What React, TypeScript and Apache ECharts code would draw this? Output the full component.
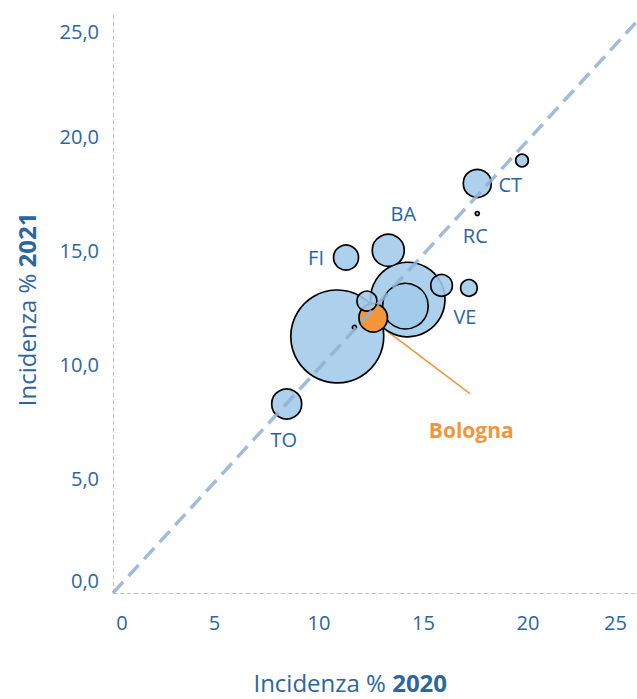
import React, { useEffect, useRef } from "react";
import * as echarts from "echarts";

// Data
const cities = ["RM", "MI", "NA", "BA", "TO", "CT", "FI", "PA", "GE", "VE", "ME", "VR", "RC", "Bologna"];
const incid2020 = [10.73, 14.1, 13.99, 13.17, 8.31, 17.43, 11.15, 15.72, 12.15, 17.03, 19.57, 11.55, 17.43, 12.45];
const incid2021 = [11.25, 12.87, 12.58, 15.03, 8.29, 17.96, 14.71, 13.49, 12.8, 13.38, 18.97, 11.65, 16.64, 12.07];
const bubbleSize = [2160, 1390, 520, 256, 225, 196, 156, 117, 100, 69, 40, 4, 4, 204];
const shownLabels = ["FI", "BA", "CT", "RC", "VE", "TO", "Bologna"];
const xTicks = [0, 5, 10, 15, 20, 25];
const yTicks = [0, 5, 10, 15, 20, 25];
const bisettrice = [[0, 0], [25, 25]];
const bolognaLeader = [[12.99, 11.57], [17.08, 8.74]];

const FONT = "'Open Sans', 'Noto Sans', sans-serif";
const BLUE_TEXT = "#2b66a2";
const ORANGE = "#f3953a";

const labelOffsets: Record<string, number[]> = {
  FI: [-30, 0],
  BA: [15, -37],
  CT: [33, 1],
  RC: [-2, 22],
  VE: [-4, 29],
  TO: [-3, 36],
  Bologna: [98, 112],
};

export default function App() {
  const ref = useRef<HTMLDivElement>(null);
  useEffect(() => {
    document.body.style.margin = "0";
    document.documentElement.style.overflow = "hidden";
    if (!ref.current) return;
    const chart = echarts.init(ref.current, undefined, { renderer: "svg" });
    const pts = cities.map((name, i) => ({
      name,
      value: [incid2020[i], incid2021[i], bubbleSize[i]],
    }));
    pts.sort((a, b) => b.value[2] - a.value[2]);
    const data = pts.map((p) => {
      const isBo = p.name === "Bologna";
      const show = shownLabels.includes(p.name);
      return {
        name: p.name,
        value: p.value,
        symbolSize: 2 * Math.sqrt(p.value[2]),
        itemStyle: isBo
          ? { color: ORANGE, borderColor: "#000", borderWidth: 1.7, opacity: 1 }
          : { color: "rgba(162,202,233,0.88)", borderColor: "#000", borderWidth: 1.7, opacity: 1 },
        label: {
          show,
          position: ["50%", "50%"],
          align: "center",
          verticalAlign: "middle",
          offset: labelOffsets[p.name] || [0, 0],
          formatter: "{b}",
          color: isBo ? ORANGE : BLUE_TEXT,
          fontSize: isBo ? 21 : 20,
          fontWeight: isBo ? "bold" : "normal",
          fontFamily: FONT,
          textBorderWidth: 0,
          opacity: 1,
        },
      };
    });

    chart.setOption({
      animation: false,
      grid: { left: 113, right: 1.5, top: 13.8, bottom: 101 },
      xAxis: {
        type: "value",
        min: xTicks[0],
        max: xTicks[xTicks.length - 1],
        interval: 5,
        splitLine: { show: false },
        axisTick: { show: false },
        axisLine: { show: true, lineStyle: { color: "#c8c8c8", type: [4, 3], width: 1 } },
        axisLabel: {
          margin: 19,
          color: BLUE_TEXT,
          fontSize: 20,
          fontFamily: FONT,
          formatter: (v: number) => {
            if (v === 0) return "{l|0}";
            if (v === 25) return "{r|25}";
            return "{n|" + v + "}";
          },
          rich: {
            l: { padding: [0, 0, 0, 18], color: BLUE_TEXT, fontSize: 20, fontFamily: FONT },
            r: { padding: [0, 40, 0, 0], color: BLUE_TEXT, fontSize: 20, fontFamily: FONT },
            n: { padding: [0, 6, 0, 0], color: BLUE_TEXT, fontSize: 20, fontFamily: FONT },
          },
        },
        name: "Incidenza % {b|2020}",
        nameLocation: "middle",
        nameGap: 78,
        nameTextStyle: {
          color: BLUE_TEXT,
          fontSize: 24,
          lineHeight: 22,
          fontFamily: FONT,
          padding: [0, 48, 0, 0],
          rich: { b: { fontWeight: "bold", fontSize: 24, lineHeight: 22, color: BLUE_TEXT, fontFamily: FONT } },
        },
      },
      yAxis: {
        type: "value",
        min: yTicks[0],
        max: 25.4,
        interval: 5,
        splitLine: { show: false },
        axisTick: { show: false },
        axisLine: { show: true, lineStyle: { color: "#c8c8c8", type: [4, 3], width: 1 } },
        axisLabel: {
          margin: 14,
          color: BLUE_TEXT,
          fontSize: 20,
          fontFamily: FONT,
          formatter: (v: number) => {
            if (!yTicks.includes(v)) return "";
            const s = v.toFixed(1).replace(".", ",");
            if (v === 0) return "{lo|" + s + "}";
            if (v === 25) return "{hi|" + s + "}";
            return "{n|" + s + "}";
          },
          rich: {
            lo: { padding: [0, 0, 26, 0], color: BLUE_TEXT, fontSize: 20, fontFamily: FONT },
            hi: { padding: [18, 0, 0, 0], color: BLUE_TEXT, fontSize: 20, fontFamily: FONT },
            n: { color: BLUE_TEXT, fontSize: 20, fontFamily: FONT },
          },
        },
        name: "Incidenza % {b|2021}",
        nameLocation: "middle",
        nameGap: 76,
        nameTextStyle: {
          color: BLUE_TEXT,
          fontSize: 24,
          lineHeight: 22,
          fontFamily: FONT,
          padding: [0, 12, 0, 0],
          rich: { b: { fontWeight: "bold", fontSize: 24, lineHeight: 22, color: BLUE_TEXT, fontFamily: FONT } },
        },
      },
      series: [
        {
          name: "leader",
          type: "line",
          data: bolognaLeader,
          symbol: "none",
          z: 1,
          lineStyle: { color: ORANGE, width: 1.6 },
        },
        {
          name: "città",
          type: "scatter",
          data,
          z: 2,
          itemStyle: { opacity: 1 },
        },
        {
          name: "bisettrice",
          type: "line",
          data: bisettrice,
          symbol: "none",
          z: 3,
          lineStyle: { color: "#8fb0d4", width: 3.5, type: [15, 8], opacity: 0.85 },
        },
      ],
    });
    return () => chart.dispose();
  }, []);
  return (
    <div style={{ width: 637, height: 699, overflow: "hidden", position: "relative" }}>
      <div ref={ref} style={{ width: 637, height: 699 }} />
    </div>
  );
}
